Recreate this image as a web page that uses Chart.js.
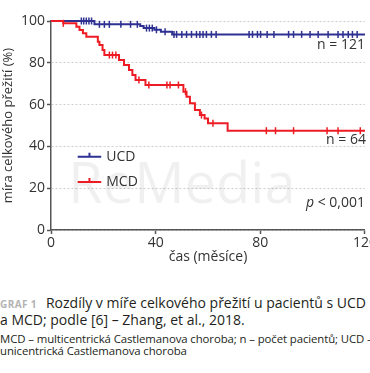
<!DOCTYPE html>
<html lang="cs">
<head>
<meta charset="utf-8">
<title>Graf 1 – celkové přežití UCD a MCD</title>
<script src="https://cdn.jsdelivr.net/npm/chart.js@4.4.1/dist/chart.umd.min.js"></script>
<style>
    html, body { margin: 0; padding: 0; background: #fff; width: 370px; height: 373px; overflow: hidden; }
    #obal { position: absolute; left: 0; top: 0; width: 378px; height: 265px; }
    .popis { position: absolute; left: 0; white-space: nowrap; font-family: "Open Sans", sans-serif; color: #231f20; }
    #radek1, #radek2 { font-size: 14px; line-height: 17px; }
    #radek1 { top: 294px; }
    #radek2 { top: 310.5px; }
    .graf { font-size: 10px; font-weight: bold; color: #b3b3b3; letter-spacing: 0.4px; margin-right: 9px; }
    #radek3, #radek4 { font-size: 11.4px; line-height: 12px; letter-spacing: -0.1px; }
    #radek3 { top: 333px; }
    #radek4 { top: 344.5px; }
</style>
</head>
<body>
<div id="obal"><canvas id="graf-preziti"></canvas></div>
<div class="popis" id="radek1"><span class="graf">GRAF 1</span>Rozdíly v míře celkového přežití u pacientů s UCD</div>
<div class="popis" id="radek2">a MCD; podle [6] – Zhang, et al., 2018.</div>
<div class="popis" id="radek3">MCD – multicentrická Castlemanova choroba; n – počet pacientů; UCD –</div>
<div class="popis" id="radek4">unicentrická Castlemanova choroba</div>

<script>
// Data (měsíce, % přežití)
const ucdCas = [0, 16.6, 34.1, 35.4, 39.5, 42, 46.3, 120];
const ucdPreziti = [100, 98.4, 97.6, 96.6, 95.8, 94.9, 93.6, 93.6];
const ucdCenzura = [11.6, 12.5, 13.5, 14.5, 15.5, 18.5, 20.4, 22.3, 26.7, 30.4, 33, 36.5, 37.6, 38.7, 40.3, 43.6,
    47, 48, 50, 51.8, 53.7, 55.6, 56.9, 58.1, 59.4, 61.3, 63.1, 75.7, 77, 78.9, 80.1, 82.6, 85.2,
    90.8, 92.7, 95.8, 99, 102.1, 105.9, 109.7, 111.6, 113.6, 115.2, 117];

const mcdCas = [0, 4.7, 9.7, 10.9, 12.2, 13.5, 17.9, 18.5, 19.7, 20.4, 26, 27.9, 29.8, 31.1, 32.3, 36.1,
    50.6, 51.8, 53.1, 55, 56.9, 58.7, 60, 67.5, 120];
const mcdPreziti = [100, 98.9, 97.3, 95.7, 94.1, 92.5, 90.1, 88.5, 86.1, 83.7, 81.3, 78.9, 76.6, 74.2, 71.8, 69.4,
    66.2, 63.8, 60.6, 57.4, 55, 53.4, 51.1, 47.5, 47.5];
const mcdCenzura = [4.7, 22.3, 23.5, 24.8, 33.6, 37.4, 44.3, 45.5, 48.7, 51.4, 57.5, 61.9,
    82.3, 85.8, 92.7, 105.5, 109.7, 118.2];

const xTicky = [0, 40, 80, 120];
const yTicky = [0, 20, 40, 60, 80, 100];

const modra = '#2e3192';
const cervena = '#ed1c24';
const pismo = '"Open Sans", sans-serif';

// hodnota schodovité křivky v daném čase
function hodnotaV(cas, casy, hodnoty) {
    let h = hodnoty[0];
    for (let i = 0; i < casy.length; i++) {
        if (casy[i] <= cas) h = hodnoty[i];
    }
    return h;
}

function body(casy, hodnoty) {
    return casy.map((t, i) => ({ x: t, y: hodnoty[i] }));
}

function cenzury(casy, krivkaCas, krivkaHodnoty) {
    return casy.map(t => ({ x: t, y: hodnotaV(t, krivkaCas, krivkaHodnoty) }));
}

// vodoznak, legenda a popisky v ploše grafu
const popisky = {
    id: 'popisky',
    beforeDatasetsDraw(chart) {
        const ctx = chart.ctx;
        const x = chart.scales.x, y = chart.scales.y;
        ctx.save();
        ctx.font = '56px ' + pismo;
        ctx.fillStyle = 'rgba(0, 0, 0, 0.06)';
        ctx.textAlign = 'center';
        ctx.textBaseline = 'middle';
        ctx.fillText('ReMedia', x.getPixelForValue(50), y.getPixelForValue(20.5));
        ctx.restore();
    },
    afterDatasetsDraw(chart) {
        const ctx = chart.ctx;
        const x = chart.scales.x, y = chart.scales.y;
        ctx.save();
        ctx.font = '14px ' + pismo;
        ctx.fillStyle = '#333';
        ctx.textBaseline = 'middle';

        const polozky = [['UCD', modra, 35], ['MCD', cervena, 23]];
        polozky.forEach(([text, barva, hodnota]) => {
            const py = y.getPixelForValue(hodnota);
            const x0 = x.getPixelForValue(10.2);
            const x1 = x.getPixelForValue(19.2);
            ctx.strokeStyle = barva;
            ctx.lineWidth = 2;
            ctx.beginPath();
            ctx.moveTo(x0, py);
            ctx.lineTo(x1, py);
            ctx.moveTo((x0 + x1) / 2, py - 4);
            ctx.lineTo((x0 + x1) / 2, py);
            ctx.stroke();
            ctx.textAlign = 'left';
            ctx.fillText(text, x1 + 5, py);
        });

        ctx.textAlign = 'right';
        const prave = x.getPixelForValue(120);
        ctx.fillText('n = 121', prave, y.getPixelForValue(88.5));
        ctx.fillText('n = 64', prave + 1, y.getPixelForValue(43));

        ctx.fillText(' < 0,001', prave, y.getPixelForValue(13));
        const sirka = ctx.measureText(' < 0,001').width;
        ctx.font = 'italic 14px ' + pismo;
        ctx.fillText('p', prave - sirka, y.getPixelForValue(13));
        ctx.restore();
    }
};

const ctx = document.getElementById('graf-preziti').getContext('2d');
const grafPreziti = new Chart(ctx, {
    type: 'line',
    data: {
        datasets: [
            {
                label: 'MCD – cenzura',
                type: 'scatter',
                data: cenzury(mcdCenzura, mcdCas, mcdPreziti),
                pointStyle: 'line',
                rotation: 90,
                radius: 3.5,
                borderColor: cervena,
                borderWidth: 1.5,
                showLine: false,
                clip: false
            },
            {
                label: 'MCD',
                data: body(mcdCas, mcdPreziti),
                stepped: true,
                borderColor: cervena,
                borderWidth: 2,
                pointRadius: 0,
                fill: false,
                clip: false
            },
            {
                label: 'UCD – cenzura',
                type: 'scatter',
                data: cenzury(ucdCenzura, ucdCas, ucdPreziti),
                pointStyle: 'line',
                rotation: 90,
                radius: 3.5,
                borderColor: modra,
                borderWidth: 1.5,
                showLine: false,
                clip: false
            },
            {
                label: 'UCD',
                data: body(ucdCas, ucdPreziti),
                stepped: true,
                borderColor: modra,
                borderWidth: 2,
                pointRadius: 0,
                fill: false,
                clip: false
            }
        ]
    },
    options: {
        responsive: true,
        maintainAspectRatio: false,
        animation: false,
        layout: { padding: { top: 21, left: 0, right: 0, bottom: 0 } },
        plugins: {
            legend: { display: false },
            tooltip: { enabled: false }
        },
        scales: {
            x: {
                type: 'linear',
                min: 0,
                max: 120,
                afterFit: function (skala) { skala.height = 35; },
                afterBuildTicks: function (skala) { skala.ticks = xTicky.map(v => ({ value: v })); },
                ticks: {
                    autoSkip: false,
                    maxRotation: 0,
                    padding: 1,
                    color: '#333',
                    font: { family: pismo, size: 14 }
                },
                grid: {
                    drawOnChartArea: false,
                    drawTicks: true,
                    tickLength: 4,
                    tickColor: '#555',
                    tickWidth: 1.5
                },
                border: { color: '#555', width: 1.5 },
                title: {
                    display: true,
                    text: 'čas (měsíce)',
                    color: '#333',
                    padding: { top: 0, bottom: 0 },
                    font: { family: pismo, size: 14 }
                }
            },
            y: {
                min: 0,
                max: 100,
                afterFit: function (skala) { skala.width = 51; },
                afterBuildTicks: function (skala) { skala.ticks = yTicky.map(v => ({ value: v })); },
                ticks: {
                    padding: 2,
                    color: '#333',
                    font: { family: pismo, size: 14 }
                },
                grid: {
                    color: '#cfcfcf',
                    lineWidth: 1,
                    drawTicks: true,
                    tickLength: 4,
                    tickColor: '#555',
                    tickWidth: 1.5
                },
                border: { color: '#555', width: 1.5, dash: [2, 2] },
                title: {
                    display: true,
                    text: 'míra celkového přežití (%)',
                    color: '#333',
                    padding: { top: 0, bottom: 0 },
                    font: { family: pismo, size: 13 }
                }
            }
        }
    },
    plugins: [popisky]
});
</script>
</body>
</html>
